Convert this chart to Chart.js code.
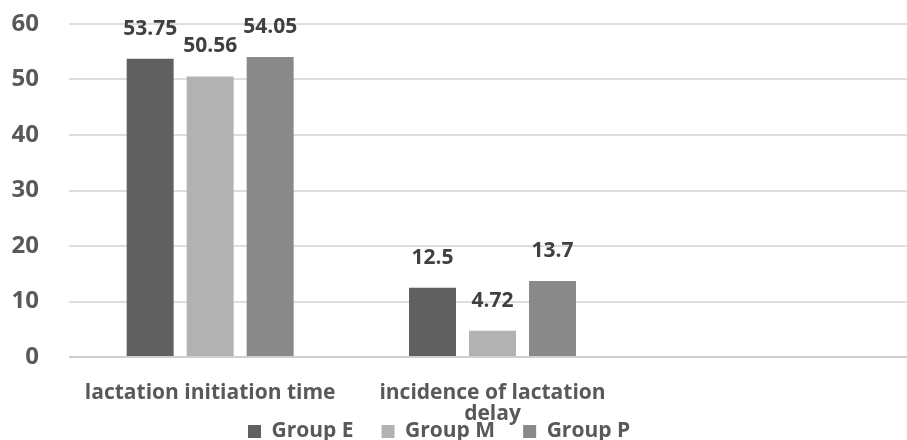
<!DOCTYPE html>
<html>
<head>
<meta charset="utf-8">
<script src="https://cdn.jsdelivr.net/npm/chart.js@4.4.1/dist/chart.umd.min.js"></script>
<style>
  html, body { margin: 0; padding: 0; background: #ffffff; overflow: hidden; width: 907px; height: 440px; }
  #wrap { position: absolute; left: 0; top: 0; width: 916px; height: 506px; }
</style>
</head>
<body>
<div id="wrap"><canvas id="c" width="916" height="506"></canvas></div>
<script>
// ---- data ----
const categories = ['lactation initiation time', ['incidence of lactation', 'delay'], ''];
const seriesNames = ['Group E', 'Group M', 'Group P'];
const groupE = [53.75, 12.5, null];
const groupM = [50.56, 4.72, null];
const groupP = [54.05, 13.7, null];
const yTicks = [0, 10, 20, 30, 40, 50, 60];

const colors = ['#606060', '#b2b2b2', '#898989'];
const FONT = '"Open Sans", "DejaVu Sans", sans-serif';

const dataLabels = {
  id: 'dataLabels',
  afterDatasetsDraw(chart) {
    const ctx = chart.ctx;
    ctx.save();
    ctx.font = 'bold 21px ' + FONT;
    ctx.fillStyle = '#404040';
    ctx.textAlign = 'center';
    ctx.textBaseline = 'alphabetic';
    chart.data.datasets.forEach((ds, i) => {
      const meta = chart.getDatasetMeta(i);
      meta.data.forEach((bar, j) => {
        const v = ds.data[j];
        if (v === null || v === undefined) return;
        ctx.fillText(String(v), bar.x, bar.y - 24);
      });
    });
    ctx.restore();
  }
};

const legendPlace = {
  id: 'legendPlace',
  afterLayout(chart) {
    const lg = chart.legend;
    if (!lg) return;
    const pad = lg.options.labels.padding;
    lg.left = 248 - pad;
    lg.right = 916;
    lg.width = lg.right - lg.left;
    lg.top = 421 - pad;
    lg.bottom = lg.top + lg.height;
  }
};

new Chart(document.getElementById('c'), {
  type: 'bar',
  data: {
    labels: categories,
    datasets: [
      { label: seriesNames[0], data: groupE, backgroundColor: colors[0] },
      { label: seriesNames[1], data: groupM, backgroundColor: colors[1] },
      { label: seriesNames[2], data: groupP, backgroundColor: colors[2] }
    ]
  },
  options: {
    responsive: false,
    animation: false,
    devicePixelRatio: 1,
    layout: { padding: { top: 24, left: 0, right: 0, bottom: 0 } },
    datasets: { bar: { categoryPercentage: 0.6375, barPercentage: 0.783 } },
    plugins: {
      tooltip: { enabled: false },
      legend: {
        position: 'bottom',
        align: 'start',
        labels: {
          boxWidth: 13,
          boxHeight: 13,
          padding: 28,
          color: '#595959',
          font: { family: FONT, size: 21, weight: 'bold' }
        }
      }
    },
    scales: {
      x: {
        grid: { display: false, drawTicks: false },
        border: { display: false },
        ticks: {
          color: '#595959',
          font: { family: FONT, size: 21, weight: 'bold', lineHeight: 1.0 },
          padding: 26,
          maxRotation: 0,
          autoSkip: false
        },
        afterFit(axis) { axis.height = 90; }
      },
      y: {
        min: 0,
        max: 60,
        afterBuildTicks(axis) { axis.ticks = yTicks.map(v => ({ value: v })); },
        grid: {
          drawTicks: false,
          color: (c) => (c.tick && c.tick.value === 0) ? '#d0d0d0' : '#dedede',
          lineWidth: 2
        },
        border: { display: false },
        ticks: {
          color: '#595959',
          font: { family: FONT, size: 24, weight: 'bold' },
          padding: 30
        },
        afterFit(axis) {
          axis.width = 69;
          axis.paddingTop = 0;
          axis.paddingBottom = 0;
        }
      }
    }
  },
  plugins: [dataLabels, legendPlace]
});
</script>
</body>
</html>
